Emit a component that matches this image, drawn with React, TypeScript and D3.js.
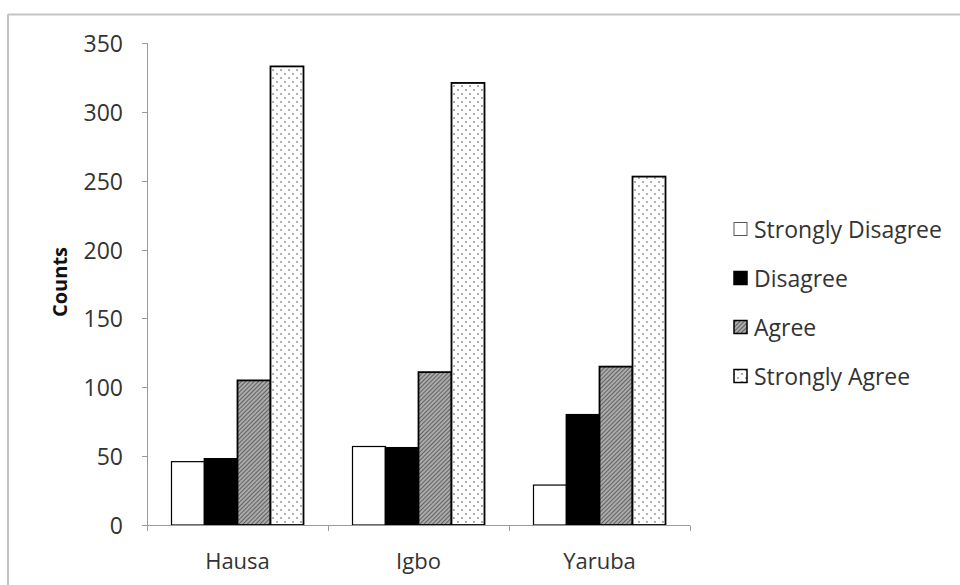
import React from "react";
import * as d3 from "d3";

const groups = ["Hausa", "Igbo", "Yaruba"];
const responses = ["Strongly Disagree", "Disagree", "Agree", "Strongly Agree"];
const stronglyDisagree = [46, 57, 29];
const disagree = [48, 56, 80];
const agree = [105, 111, 115];
const stronglyAgree = [333, 321, 253];
const yTicks = [0, 50, 100, 150, 200, 250, 300, 350];

const seriesValues = [stronglyDisagree, disagree, agree, stronglyAgree];
const fills = ["#ffffff", "#000000", "url(#hatch)", "url(#dots)"];

const W = 960;
const H = 585;
const FONT = "'Open Sans', sans-serif";

export default function App() {
  const x0 = d3.scaleBand<string>().domain(groups).range([147, 690]).padding(0);
  const x1 = d3
    .scaleBand<string>()
    .domain(responses)
    .range([24.5, x0.bandwidth() - 24.5])
    .padding(0);
  const y = d3.scaleLinear().domain([0, 350]).range([525, 43]);

  return (
    <svg
      width={W}
      height={H}
      style={{ position: "absolute", left: 0, top: 0, background: "#fff" }}
      fontFamily={FONT}
    >
      <defs>
        <pattern id="hatch" width="3" height="3" patternUnits="userSpaceOnUse" patternTransform="rotate(45)">
          <rect width="3" height="3" fill="#aaaaaa" />
          <line x1="0" y1="0" x2="0" y2="3" stroke="#333" strokeWidth="1.2" />
        </pattern>
        <pattern id="dots" width="8" height="8" patternUnits="userSpaceOnUse">
          <rect width="8" height="8" fill="#fff" />
          <circle cx="2" cy="2" r="0.9" fill="#8a8a8a" />
          <circle cx="6" cy="6" r="0.9" fill="#8a8a8a" />
        </pattern>
      </defs>

      {/* outer frame */}
      <line x1={8} y1={14.5} x2={W} y2={14.5} stroke="#c4c4c4" strokeWidth={2} />
      <line x1={8} y1={14} x2={8} y2={H} stroke="#c4c4c4" strokeWidth={2} />

      {/* y axis */}
      <line x1={147.5} y1={y(350)} x2={147.5} y2={y(0)} stroke="#9a9a9a" strokeWidth={1} />
      {yTicks.map((t) => (
        <g key={t}>
          <line x1={142} x2={147.5} y1={Math.round(y(t)) + 0.5} y2={Math.round(y(t)) + 0.5} stroke="#9a9a9a" />
          <text
            x={123}
            y={y(t)}
            textAnchor="end"
            dominantBaseline="central"
            fontSize={23}
            fill="#333"
          >
            {t}
          </text>
        </g>
      ))}
      <text
        transform={`translate(59, ${y(175) - 2}) rotate(-90)`}
        textAnchor="middle"
        dominantBaseline="central"
        fontSize={20}
        fontWeight="bold"
        fill="#111"
      >
        Counts
      </text>

      {/* bars */}
      {groups.map((g, gi) => (
        <g key={g} transform={`translate(${x0(g)},0)`}>
          {responses.map((r, ri) => {
            const v = seriesValues[ri][gi];
            return (
              <rect
                key={r}
                x={x1(r)}
                y={y(v)}
                width={x1.bandwidth()}
                height={y(0) - y(v)}
                fill={fills[ri]}
                stroke="#000"
                strokeWidth={ri === 0 ? 1.2 : 1.8}
              />
            );
          })}
        </g>
      ))}

      {/* x axis */}
      <line x1={147} x2={690} y1={525.5} y2={525.5} stroke="#9a9a9a" />
      {[...groups.map((g) => x0(g) as number), 690].map((t, i) => (
        <line key={i} x1={t + 0.5} x2={t + 0.5} y1={525.5} y2={531} stroke="#9a9a9a" />
      ))}
      {groups.map((g) => (
        <text
          key={g}
          x={(x0(g) as number) + x0.bandwidth() / 2}
          y={560}
          textAnchor="middle"
          dominantBaseline="central"
          fontSize={22}
          fill="#333"
        >
          {g}
        </text>
      ))}

      {/* legend */}
      {responses.map((r, i) => {
        const cy = 229 + i * 49;
        return (
          <g key={r}>
            <rect
              x={734}
              y={cy - 6.5}
              width={13}
              height={13}
              fill={fills[i]}
              stroke={i === 0 ? "#555" : "#000"}
              strokeWidth={i === 0 ? 1 : 1.5}
            />
            <text x={754} y={cy} dominantBaseline="central" fontSize={23} fill="#333">
              {r}
            </text>
          </g>
        );
      })}
    </svg>
  );
}
